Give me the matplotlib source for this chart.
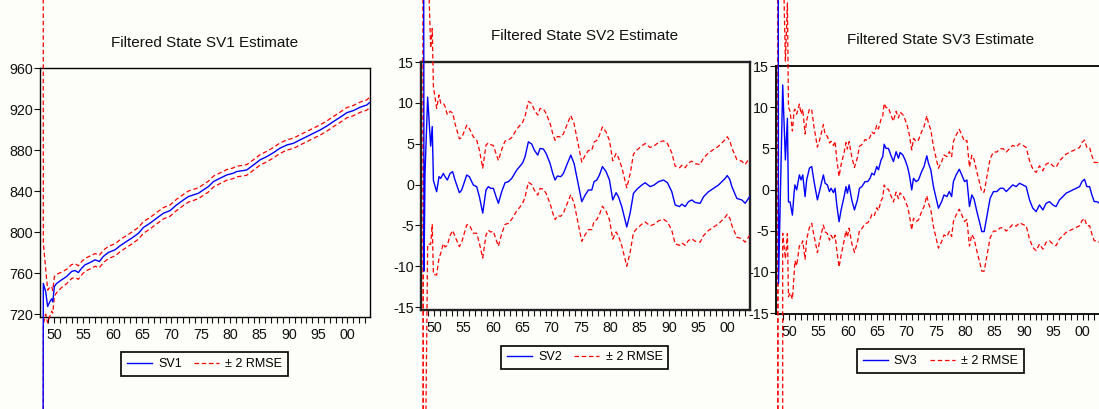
import numpy as np
import matplotlib
matplotlib.use("Agg")
import matplotlib.pyplot as plt
from matplotlib.lines import Line2D

plt.rcParams['font.family'] = ['Liberation Sans', 'DejaVu Sans']

# ---------------- data ----------------
years1 = [1948.0, 1948.18, 1948.58, 1948.92, 1949.32, 1949.6, 1949.8, 1950.06, 1950.45,
          1951.3, 1952.16, 1953.0, 1953.58, 1954.15, 1954.72, 1955.28, 1956.14, 1957.0, 1957.73,
          1958.4, 1959.26, 1960.4, 1961.25, 1962.1, 1963.24, 1964.4, 1965.23, 1966.36, 1967.5,
          1968.64, 1969.77, 1970.9, 1972.05, 1972.9, 1973.75, 1974.6, 1975.45, 1976.3, 1977.16,
          1978.3, 1979.43, 1980.57, 1981.1, 1982.3, 1982.84, 1984.0, 1985.1, 1986.25, 1987.4,
          1988.5, 1989.7, 1990.8, 1991.9, 1993.07, 1994.2, 1995.34, 1996.5, 1997.6, 1998.75,
          1999.9, 2001.0, 2002.16, 2003.3, 2003.75]
sv1 = [0, 750, 742, 727.5, 732.4, 735, 732, 747, 750,
       753.5, 756.8, 761.6, 762.6, 760.6, 764.9, 768.1, 770.4, 773, 771.4,
       776.3, 780.2, 782.8, 786.7, 790, 794.2, 799, 804.6, 808.8, 813.7,
       818.5, 821.1, 826.7, 831.5, 834.8, 836.4, 838, 841.3, 844.5, 849.4,
       852.7, 855.9, 857.6, 859.2, 860.2, 860.8, 865.7, 870.6, 873.8, 877.7,
       882, 885.2, 886.8, 890.1, 893.3, 896.6, 899.8, 903.7, 908, 912.2,
       916.7, 918.7, 922, 924.2, 926.5]
band1 = [5000, 40, 22, 16, 14, 12, 11, 9.5, 9,
         7.5, 7.0, 6.8, 6.7, 6.6, 6.5, 6.4, 6.3, 6.2, 6.1,
         6.0, 6.0, 5.9, 5.9, 5.8, 5.8, 5.7, 5.7, 5.6, 5.6,
         5.5, 5.5, 5.5, 5.4, 5.4, 5.4, 5.3, 5.3, 5.3, 5.3,
         5.2, 5.2, 5.2, 5.2, 5.2, 5.2, 5.1, 5.1, 5.1, 5.1,
         5.1, 5.0, 5.0, 5.0, 5.0, 5.0, 5.0, 5.0, 5.0, 5.0,
         5.0, 5.0, 5.0, 5.0, 5.0]

years2 = [1948.0, 1948.3, 1948.47, 1948.92, 1949.43, 1949.7, 1949.9, 1950.45, 1950.85,
          1951.14, 1951.59, 1951.88, 1952.27, 1952.73, 1953.18, 1953.58, 1954.32, 1954.72,
          1955.57, 1956.02, 1956.7, 1957.27, 1957.73, 1958.3, 1958.86, 1959.26, 1959.66,
          1960.11, 1960.57, 1960.97, 1961.53, 1962.1, 1962.67, 1963.24, 1964.09, 1964.66,
          1965.11, 1965.51, 1966.08, 1966.65, 1967.1, 1967.67, 1968.07, 1968.64, 1969.09, 1969.77,
          1970.23, 1970.63, 1971.02, 1971.59, 1972.05, 1972.61, 1973.3, 1973.86, 1974.43,
          1975.17, 1975.74, 1976.31, 1976.88, 1977.27, 1977.73, 1978.18, 1978.69, 1979.32, 1979.89,
          1980.45, 1981.02, 1981.42, 1981.99, 1982.84, 1983.41, 1983.98, 1984.55,
          1985.4, 1985.97, 1986.82, 1987.5, 1988.24, 1989.09, 1989.77,
          1990.51, 1991.08, 1991.82, 1992.22, 1992.78, 1993.35, 1993.92, 1994.49,
          1995.34, 1995.91, 1996.76, 1997.61, 1998.47, 1999.6, 1999.95, 2000.4,
          2000.74, 2001.59, 2002.44, 2003.01, 2003.75]
sv2 = [200, -10.6, 1.4, 10.7, 4.7, 7.1, 0.5, -0.88, 0.96,
       0.76, 1.36, 0.96, 0.55, 1.36, 1.57, 0.55, -1.0, -0.67,
       1.16, 0.96, -0.06, -0.26, -1.48, -3.5, -0.67, -0.26, -0.47,
       -0.47, -1.48, -2.3, -0.88, 0.22, 0.35, 0.75, 1.77, 2.26,
       2.67, 3.4, 5.23, 4.95, 4.2, 3.6, 4.42, 4.34, 3.81, 2.59,
       1.36, 0.55, 1.04, 0.96, 1.36, 2.38, 3.6, 2.59, 0.55,
       -2.1, -1.3, -0.67, -0.67, 0.35, 0.55, 1.16, 2.2, 1.57, 0.55,
       -1.89, -1.0, -1.5, -2.7, -5.2, -3.5, -1.08, -0.59,
       -0.06, 0.22, -0.26, -0.06, 0.35, 0.55, 0.22,
       -0.88, -2.5, -2.7, -2.4, -2.7, -2.1, -1.89, -2.2,
       -2.3, -1.5, -0.88, -0.47, -0.06, 0.75, 1.1, 0.6,
       -0.26, -1.7, -1.89, -2.3, -1.5]
band2 = [-2e4, 2e4, 40, 18, 12, 12, 11.5, 10.2, 10.0,
         9.2, 8.6, 8.6, 8.0, 7.6, 7.2, 6.9, 6.6, 6.4,
         6.1, 5.9, 5.9, 5.7, 5.7, 5.5, 5.5, 5.35, 5.35,
         5.25, 5.25, 5.25, 5.15, 5.1, 5.1, 5.0, 5.0, 5.0,
         4.95, 4.95, 4.95, 4.95, 4.9, 4.9, 4.9, 4.9, 4.9, 4.9,
         4.85, 4.85, 4.85, 4.85, 4.85, 4.85, 4.85, 4.85, 4.85,
         4.85, 4.85, 4.85, 4.85, 4.85, 4.85, 4.85, 4.85, 4.85, 4.85,
         4.8, 4.8, 4.8, 4.8, 4.8, 4.8, 4.8, 4.8,
         4.8, 4.8, 4.8, 4.8, 4.8, 4.8, 4.8,
         4.75, 4.75, 4.75, 4.75, 4.75, 4.75, 4.75, 4.75,
         4.75, 4.75, 4.75, 4.75, 4.75, 4.75, 4.75, 4.75,
         4.75, 4.75, 4.75, 4.75, 4.75]

years3 = [1948.0, 1948.2, 1948.92, 1949.375, 1949.72, 1949.9, 1950.17, 1950.57, 1950.85,
          1951.0, 1951.3, 1951.76, 1952.05, 1952.33, 1952.73, 1953.0, 1953.47, 1953.86,
          1954.26, 1954.83, 1955.3, 1955.85, 1956.14, 1956.53, 1956.88, 1957.16, 1957.56,
          1957.84, 1958.13, 1958.52, 1958.86, 1959.38, 1959.7, 1959.94, 1960.23, 1960.68,
          1961.14, 1961.65, 1962.0, 1962.4, 1962.95, 1963.4, 1963.8, 1964.1, 1964.5, 1964.94,
          1965.23, 1965.68, 1965.97, 1966.2, 1966.53, 1966.93, 1967.33, 1967.78, 1968.24,
          1968.64, 1968.92, 1969.38, 1969.77,
          1970.17, 1970.5, 1970.9, 1971.2, 1971.65, 1972.05, 1972.6, 1973.0, 1973.47, 1973.75,
          1974.15, 1974.6, 1975.06, 1975.45, 1976.0, 1976.4, 1976.9, 1977.3, 1977.7, 1978.0,
          1978.47, 1979.0, 1979.43, 1979.9,
          1980.3, 1980.74, 1981.14, 1981.53, 1982.0, 1982.44, 1982.84, 1983.24, 1983.7, 1984.26,
          1984.83, 1985.4, 1985.97, 1986.5, 1987.0, 1987.56, 1988.1, 1988.7, 1989.26, 1989.83,
          1990.4, 1990.97, 1991.53, 1992.1, 1992.67, 1993.24, 1993.8, 1994.37, 1994.94, 1995.5,
          1996.07, 1996.65, 1997.2, 1997.78, 1998.35, 1998.9, 1999.5, 1999.9, 2000.34, 2000.74,
          2001.2, 2001.6, 2002.0, 2002.44, 2002.9, 2003.75]
sv3 = [200, -11.4, 12.7, 3.6, 8.65, -1.5, -1.5, -3.1, -0.44,
       0.57, -0.04, 1.78, 1.17, 1.78, -0.85, 1.17, 2.6, 2.8,
       0.97, -1.25, 0.16, 1.78, 0.77, 0.57, -0.24, 0.16, -0.36,
       0.16, -1.86, -3.9, -2.5, -0.85, 0.36, -0.44, 0.57, -1.25,
       -2.47, -1.25, 0.16, 0.36, 0.97, 0.97, 1.37, 1.98, 1.78, 2.8,
       2.4, 3.6, 4.0, 5.5, 5.0, 5.0, 4.2, 3.4, 4.6,
       3.8, 4.5, 4.2, 3.6,
       2.8, 1.78, -0.04, 1.37, 0.97, 1.17, 2.2, 2.8, 4.1, 3.2,
       2.4, 0.36, -1.05, -2.26, -1.46, -0.65, -0.85, -0.24, -0.85, 0.97,
       1.78, 2.47, 1.78, 0.97,
       1.17, -2.06, -0.65, -1.17, -2.67, -3.9, -5.1, -5.1, -3.3, -1.05,
       -0.24, -0.24, 0.16, 0.16, -0.24, 0.16, 0.57, 0.36, 0.77, 0.57,
       0.36, -1.25, -2.26, -2.67, -1.86, -2.47, -1.66, -1.46, -1.86, -2.06,
       -1.25, -0.85, -0.44, -0.24, -0.04, 0.16, 0.36, 0.97, 1.25, 0.36,
       0.36, -0.65, -1.46, -1.46, -1.66, -1.6]
band3 = [-2e4, 2e4, 18, 12, 14, 11.5, 11, 10.2, 10.0,
         9.2, 9.2, 8.6, 8.0, 8.0, 7.6, 7.2, 7.2, 6.9,
         6.6, 6.4, 6.1, 6.1, 5.9, 5.9, 5.9, 5.7, 5.7,
         5.7, 5.5, 5.5, 5.5, 5.35, 5.35, 5.35, 5.25, 5.25,
         5.15, 5.15, 5.1, 5.1, 5.1, 5.0, 5.0, 5.0, 5.0, 5.0,
         4.95, 4.95, 4.95, 4.95, 4.95, 4.95, 4.9, 4.9, 4.9,
         4.9, 4.9, 4.9, 4.9,
         4.85, 4.85, 4.85, 4.85, 4.85, 4.85, 4.85, 4.85, 4.85, 4.85,
         4.85, 4.85, 4.85, 4.85, 4.85, 4.85, 4.85, 4.85, 4.85, 4.85,
         4.85, 4.85, 4.85, 4.85,
         4.8, 4.8, 4.8, 4.8, 4.8, 4.8, 4.8, 4.8, 4.8, 4.8,
         4.8, 4.8, 4.8, 4.8, 4.8, 4.8, 4.8, 4.8, 4.8, 4.8,
         4.75, 4.75, 4.75, 4.75, 4.75, 4.75, 4.75, 4.75, 4.75, 4.75,
         4.75, 4.75, 4.75, 4.75, 4.75, 4.75, 4.75, 4.75, 4.75, 4.75,
         4.75, 4.75, 4.75, 4.75, 4.75, 4.75]

for a, b, c in [(years1, sv1, band1), (years2, sv2, band2), (years3, sv3, band3)]:
    assert len(a) == len(b) == len(c), (len(a), len(b), len(c))

x_major = [1950, 1955, 1960, 1965, 1970, 1975, 1980, 1985, 1990, 1995, 2000]
x_labels = ['50', '55', '60', '65', '70', '75', '80', '85', '90', '95', '00']
y1_ticks = [720, 760, 800, 840, 880, 920, 960]
y23_ticks = [-15, -10, -5, 0, 5, 10, 15]

titles = ['Filtered State SV1 Estimate', 'Filtered State SV2 Estimate',
          'Filtered State SV3 Estimate']
series_names = ['SV1', 'SV2', 'SV3']
band_label = '\u00b1 2 RMSE'

# ---------------- layout ----------------
W, H = 1099, 409
BG = '#FDFDF9'
fig = plt.figure(figsize=(W / 100, H / 100), dpi=100, facecolor=BG)


def px_axes(l, t, r, b):
    return fig.add_axes([l / W, 1 - b / H, (r - l) / W, (b - t) / H])


panels = [
    dict(box=(39.5, 68.3, 369.5, 316.5), xlim=(1947.53, 2003.75), ylim=(717.7, 960),
         yt=y1_ticks, title_c=(205, 43), leg_c=(204.5, 364), spine_lw=1.0, spine_c='black'),
    dict(box=(420.5, 62.0, 750.0, 309.5), xlim=(1947.7, 2003.83), ylim=(-15.3, 15),
         yt=y23_ticks, title_c=(585, 36.5), leg_c=(584.7, 357.5), spine_lw=1.7, spine_c='#222222'),
    dict(box=(775.5, 66.0, 1105.0, 314.0), xlim=(1947.69, 2003.83), ylim=(-15.1, 15),
         yt=y23_ticks, title_c=(940.5, 40), leg_c=(940.3, 361), spine_lw=1.3, spine_c='black'),
]
data = [(years1, sv1, band1), (years2, sv2, band2), (years3, sv3, band3)]

BLUE = '#0000FF'
RED = '#FF0000'

for i, (p, (xs, sv, bd)) in enumerate(zip(panels, data)):
    ax = px_axes(*p['box'])
    ax.set_facecolor('none')
    xs = np.array(xs, float)
    sv = np.array(sv, float)
    bd = np.array(bd, float)
    upper = sv + bd
    lower = sv - bd
    ax.plot(xs, upper, color=RED, lw=0.9, dashes=(3.6, 2.2), clip_on=False, zorder=3)
    ax.plot(xs, lower, color=RED, lw=0.9, dashes=(3.6, 2.2), clip_on=False, zorder=3)
    ax.plot(xs, sv, color=BLUE, lw=1.0, clip_on=False, zorder=4)
    ax.set_xlim(*p['xlim'])
    ax.set_ylim(*p['ylim'])
    ax.set_xticks(x_major)
    ax.set_xticklabels(x_labels)
    ax.set_xticks(np.arange(1949, 2004), minor=True)
    ax.set_yticks(p['yt'])
    ax.set_yticklabels([str(v) for v in p['yt']])
    ax.tick_params(axis='both', which='both', direction='out', length=4.2, width=0.8,
                   colors='#111111', labelsize=10.3, top=False, right=False)
    ax.tick_params(axis='x', which='both', pad=3.8)
    ax.tick_params(axis='y', which='both', pad=0.5)
    for s in ax.spines.values():
        s.set_linewidth(p['spine_lw'])
        s.set_color(p['spine_c'])
    if i == 2:
        ax.spines['right'].set_visible(False)
    cx, cy = p['title_c']
    fig.text(cx / W, 1 - cy / H, titles[i], ha='center', va='center', fontsize=11,
             color='#111111')
    handles = [Line2D([], [], color=BLUE, lw=1.0),
               Line2D([], [], color=RED, lw=0.9, dashes=(3.6, 2.2))]
    lx, ly = p['leg_c']
    leg = ax.legend(handles, [series_names[i], band_label], ncol=2, loc='center',
                    bbox_to_anchor=(lx / W, 1 - ly / H), bbox_transform=fig.transFigure,
                    frameon=True, fancybox=False, framealpha=1, facecolor=BG,
                    edgecolor='black', fontsize=9.0, borderpad=0.45, handlelength=2.0,
                    handletextpad=0.5, columnspacing=1.0, borderaxespad=0)
    leg.get_frame().set_linewidth(1.2)

fig.savefig('out.png', dpi=100, facecolor=BG)
